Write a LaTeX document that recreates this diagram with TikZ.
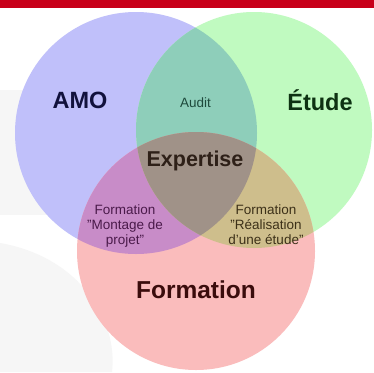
\documentclass[tikz,border=0pt]{standalone}
\usepackage{fontspec}
\setmainfont{Liberation Sans}
\definecolor{cbar}{HTML}{C8001A}
\definecolor{cblue}{HTML}{C0C0FA}
\definecolor{cgreen}{HTML}{C0FAC0}
\definecolor{cred}{HTML}{FABCBC}
\definecolor{cbg}{HTML}{8ECEBA}
\definecolor{cbr}{HTML}{C88CC8}
\definecolor{cgr}{HTML}{CEBE8C}
\definecolor{call}{HTML}{A09288}
\definecolor{tamo}{HTML}{12123C}
\definecolor{tetude}{HTML}{0E3212}
\definecolor{tform}{HTML}{3A0C0C}
\definecolor{texp}{HTML}{2E2018}
\definecolor{taudit}{HTML}{1E4A3C}
\definecolor{tleft}{HTML}{4A1A4A}
\definecolor{tright}{HTML}{3C3018}
\definecolor{bgray}{HTML}{F6F6F6}
\newcommand{\dq}{\char34\relax}
\newcommand{\sq}{\char39\relax}
\begin{document}
\begin{tikzpicture}[x=1pt,y=-1pt,
  bigtext/.style={font=\fontsize{23.5}{26}\selectfont\bfseries, inner sep=0pt, anchor=base},
  midtext/.style={font=\fontsize{21.5}{24}\selectfont\bfseries, inner sep=0pt, anchor=base},
  smalltext/.style={font=\fontsize{13.5}{15}\selectfont, inner sep=0pt, align=center}]
\useasboundingbox (0,0) rectangle (374,372);
% background
\fill[white] (0,0) rectangle (374,372);
\fill[bgray] (0,90) rectangle (70,215);
\fill[bgray] (0,243) .. controls (80,257) and (118,320) .. (112,372) -- (0,372) -- cycle;
\fill[cbar] (0,0) rectangle (374,8);
% circles
\coordinate (B) at (136,133);
\coordinate (G) at (254,130);
\coordinate (R) at (196,251);
\fill[cblue] (B) circle (121);
\fill[cgreen] (G) circle (118);
\fill[cred] (R) circle (119);
\begin{scope}
  \clip (B) circle (121);
  \fill[cbg] (G) circle (118);
  \fill[cbr] (R) circle (119);
\end{scope}
\begin{scope}
  \clip (G) circle (118);
  \fill[cgr] (R) circle (119);
\end{scope}
\begin{scope}
  \clip (B) circle (121);
  \clip (G) circle (118);
  \fill[call] (R) circle (119);
\end{scope}
% labels
\node[bigtext, text=tamo] (amo) at (80,108) {AMO};
\node[bigtext, text=tetude] (etude) at (320,110) {Étude};
\node[bigtext, text=tform, font=\fontsize{24.5}{27}\selectfont\bfseries] (form) at (196,298) {Formation};
\node[midtext, text=texp] (exp) at (195,166) {Expertise};
\node[text=taudit, font=\fontsize{13.5}{15}\selectfont, inner sep=0pt, anchor=base] (audit) at (195.5,107) {Audit};
\node[smalltext, text=tleft, anchor=base] (fmp) at (125,244) {Formation\\\dq Montage de\\projet\dq};
\node[smalltext, text=tright, anchor=base] (fre) at (266,244) {Formation\\\dq Réalisation\\d\sq une étude\dq};
\end{tikzpicture}
\end{document}
